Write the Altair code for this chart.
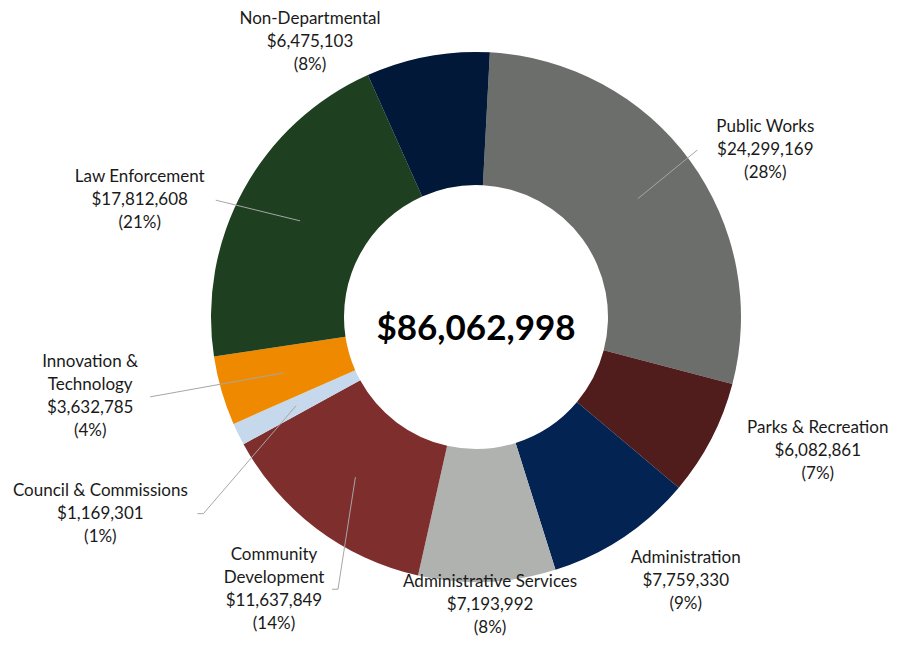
import math
import altair as alt
import pandas as pd

departments = [
    "Public Works", "Parks & Recreation", "Administration", "Administrative Services",
    "Community Development", "Council & Commissions", "Innovation & Technology",
    "Law Enforcement", "Non-Departmental",
]
label_lines = [
    ["Public Works"], ["Parks & Recreation"], ["Administration"], ["Administrative Services"],
    ["Community", "Development"], ["Council & Commissions"], ["Innovation &", "Technology"],
    ["Law Enforcement"], ["Non-Departmental"],
]
budgets = [24299169, 6082861, 7759330, 7193992, 11637849, 1169301, 3632785, 17812608, 6475103]
colors = ["#6c6e6b", "#501c1c", "#032452", "#b0b2b0", "#7f2e2e", "#c6d8ec", "#ef8a00", "#1f4020", "#011838"]

# layout of the outside labels (angle nudge in degrees from slice middle, distance in px)
label_angle_nudge = [6.2, -6.0, -4.8, -0.4, -0.4, -1.4, 4.5, -9.5, -20.6]
label_radius = [334, 367, 337, 288, 339, 424, 394, 356, 321]
# leader lines: horizontal offset of end from label centre, elbow length (None = no leader)
leader_end = [-68, None, None, None, 58, 97, 60, 76, None]
leader_elbow = [0, None, None, None, 6, 6, 0, 0, None]

W, H = 881, 629
CX, CY = 468, 309
R_OUT, R_IN = 265, 132
OFF = math.radians(3)
LH = 23

total = sum(budgets)
rows, labels, leaders = [], [], []
cum = 0
for i, (d, v) in enumerate(zip(departments, budgets)):
    mid = (cum + v / 2) / total * 2 * math.pi + OFF
    cum += v
    rows.append({"dept": d, "value": v, "idx": i})
    a = mid + math.radians(label_angle_nudge[i])
    r = label_radius[i]
    lx, ly = r * math.sin(a), r * math.cos(a)
    pct = round(v / total * 100)
    lines_ = label_lines[i] + [f"${v:,}", f"({pct}%)"]
    txt = "\n".join(lines_)
    # Vega anchors the first line; shift so the block is centred
    labels.append({"dept": d, "x": lx, "y": ly + (len(lines_) - 1) * LH / 2, "txt": txt})
    if leader_end[i] is not None:
        rm = (R_OUT + R_IN) / 2 + 2
        sx, sy = rm * math.sin(mid), rm * math.cos(mid)
        ex = lx + leader_end[i]
        el = leader_elbow[i] * (1 if leader_end[i] > 0 else -1)
        pts = [(sx, sy), (ex + el, ly), (ex, ly)]
        for k, (px, py) in enumerate(pts):
            leaders.append({"dept": d, "k": k, "x": px, "y": py})

df = pd.DataFrame(rows)
lab = pd.DataFrame(labels)
lead = pd.DataFrame(leaders)
center = pd.DataFrame([{"txt": f"${total:,}"}])

xs = alt.Scale(domain=[-CX, W - CX], nice=False, zero=False)
ys = alt.Scale(domain=[-(H - CY), CY], nice=False, zero=False)

arcs = alt.Chart(df).mark_arc(outerRadius=R_OUT, innerRadius=R_IN).encode(
    theta=alt.Theta("value:Q", stack=True, scale=alt.Scale(range=[OFF, 2 * math.pi + OFF])),
    order=alt.Order("idx:Q"),
    color=alt.Color("dept:N", scale=alt.Scale(domain=departments, range=colors), legend=None),
    x=alt.datum(0, scale=xs, axis=None),
    y=alt.datum(0, scale=ys, axis=None),
)

lines = alt.Chart(lead).mark_line(color="#a6a6a6", strokeWidth=1).encode(
    x=alt.X("x:Q", scale=xs, axis=None),
    y=alt.Y("y:Q", scale=ys, axis=None),
    detail="dept:N",
    order="k:Q",
)

texts = alt.Chart(lab).mark_text(
    font="Lato", fontSize=17, lineHeight=LH, lineBreak="\n", color="#1a1a1a",
    align="center", baseline="middle",
).encode(
    x=alt.X("x:Q", scale=xs, axis=None),
    y=alt.Y("y:Q", scale=ys, axis=None),
    text="txt:N",
)

ctext = alt.Chart(center).mark_text(
    font="Lato", fontSize=35, fontWeight="bold", color="#000000", align="center",
    baseline="middle", dy=12,
).encode(
    x=alt.datum(0, scale=xs, axis=None),
    y=alt.datum(0, scale=ys, axis=None),
    text="txt:N",
)

chart = alt.layer(arcs, lines, texts, ctext).properties(
    width=W, height=H, padding=0, autosize="none"
).configure_view(stroke=None)

chart.save("out.html", embed_options={"renderer": "svg", "actions": False})
